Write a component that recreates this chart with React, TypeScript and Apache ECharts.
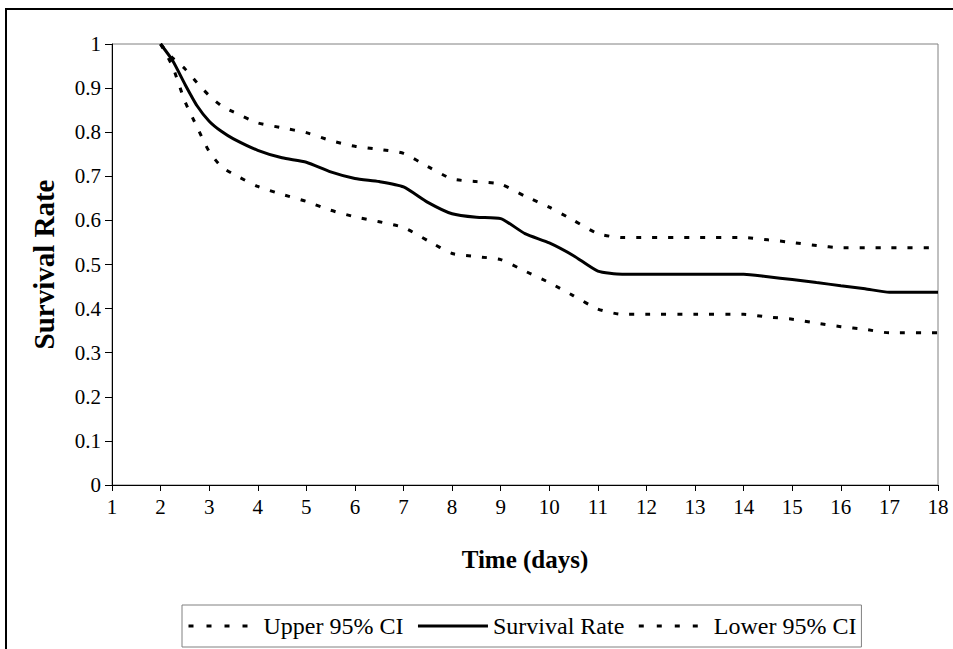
import React, { useEffect, useRef } from "react";
import * as echarts from "echarts";

const timeDays = [2, 2.25, 2.5, 2.75, 3, 3.25, 3.5, 4, 4.5, 5, 5.5, 6, 6.5, 7, 7.5, 8, 8.5, 9, 9.5, 10, 10.5, 11, 11.5, 12, 13, 14, 14.5, 15, 15.5, 16, 16.5, 17, 18];
const survivalRate = [1.0, 0.962, 0.909, 0.86, 0.825, 0.802, 0.785, 0.759, 0.742, 0.732, 0.71, 0.695, 0.688, 0.676, 0.641, 0.615, 0.607, 0.604, 0.57, 0.549, 0.52, 0.485, 0.478, 0.478, 0.478, 0.478, 0.472, 0.466, 0.459, 0.452, 0.445, 0.437, 0.437];
const upperCI = [1.0, 0.968, 0.944, 0.912, 0.883, 0.86, 0.846, 0.821, 0.81, 0.799, 0.781, 0.768, 0.761, 0.752, 0.722, 0.694, 0.688, 0.682, 0.655, 0.63, 0.6, 0.57, 0.561, 0.561, 0.561, 0.561, 0.556, 0.55, 0.543, 0.538, 0.538, 0.538, 0.538];
const lowerCI = [1.0, 0.948, 0.87, 0.812, 0.756, 0.722, 0.705, 0.677, 0.659, 0.643, 0.623, 0.608, 0.597, 0.584, 0.554, 0.525, 0.518, 0.511, 0.485, 0.459, 0.429, 0.399, 0.387, 0.387, 0.387, 0.387, 0.381, 0.376, 0.367, 0.359, 0.353, 0.345, 0.345];

const seriesNames = ["Upper 95% CI", "Survival Rate", "Lower 95% CI"];
const FONT = "Liberation Serif";

function pairs(ys: number[]) {
  return timeDays.map((t, i) => [t, ys[i]]);
}

export default function App() {
  const ref = useRef<HTMLDivElement>(null);
  useEffect(() => {
    if (!ref.current) return;
    const chart = echarts.init(ref.current, undefined, { renderer: "svg" });
    const dotted = { color: "#000", width: 3, type: [5, 11] as any };
    const legendDotted = { color: "#000", width: 3, type: [5, 13] as any };
    chart.setOption({
      animation: false,
      backgroundColor: "#fff",
      textStyle: { fontFamily: FONT, color: "#000" },
      grid: {
        left: 112,
        right: 15,
        top: 44,
        bottom: 164,
        show: true,
        borderColor: "#808080",
        borderWidth: 1,
        backgroundColor: "transparent",
      },
      xAxis: {
        type: "value",
        min: 1,
        max: 18,
        interval: 1,
        name: "Time (days)",
        nameLocation: "middle",
        nameGap: 62,
        nameTextStyle: { fontFamily: FONT, fontSize: 25, fontWeight: "bold", color: "#000" },
        axisLine: { show: true, lineStyle: { color: "#000", width: 1 } },
        axisTick: { show: true, length: 6, lineStyle: { color: "#000" } },
        axisLabel: { fontFamily: FONT, fontSize: 21, color: "#000", margin: 11 },
        splitLine: { show: false },
      },
      yAxis: {
        type: "value",
        min: 0,
        max: 1,
        interval: 0.1,
        name: "Survival Rate",
        nameLocation: "middle",
        nameGap: 54,
        nameTextStyle: { fontFamily: FONT, fontSize: 29, fontWeight: "bold", color: "#000" },
        axisLine: { show: true, lineStyle: { color: "#000", width: 1 } },
        axisTick: { show: true, length: 7, lineStyle: { color: "#000" } },
        axisLabel: { fontFamily: FONT, fontSize: 21, color: "#000", margin: 11 },
        splitLine: { show: false },
      },
      legend: {
        left: 182,
        top: 605,
        orient: "horizontal",
        padding: [9, 5],
        itemGap: 13,
        itemWidth: 70,
        itemHeight: 14,
        borderColor: "#808080",
        borderWidth: 1,
        data: [
          { name: seriesNames[0], lineStyle: legendDotted },
          { name: seriesNames[1], lineStyle: { color: "#000", width: 3, type: "solid" } },
          { name: seriesNames[2], lineStyle: legendDotted },
        ],
        itemStyle: { opacity: 0 },
        textStyle: { fontFamily: FONT, fontSize: 24, color: "#000" },
      },
      graphic: [
        { type: "line", shape: { x1: 5, y1: 9, x2: 953, y2: 9 }, style: { stroke: "#000", lineWidth: 2 } },
        { type: "line", shape: { x1: 6, y1: 8, x2: 6, y2: 649 }, style: { stroke: "#000", lineWidth: 2 } },
      ],
      series: [
        {
          name: seriesNames[0],
          type: "line",
          data: pairs(upperCI),
          showSymbol: false,
          symbol: "none",
          smooth: 0.2,
          lineStyle: dotted,
          itemStyle: { color: "#000" },
        },
        {
          name: seriesNames[1],
          type: "line",
          data: pairs(survivalRate),
          showSymbol: false,
          symbol: "none",
          smooth: 0.2,
          lineStyle: { color: "#000", width: 3, type: "solid" },
          itemStyle: { color: "#000" },
        },
        {
          name: seriesNames[2],
          type: "line",
          data: pairs(lowerCI),
          showSymbol: false,
          symbol: "none",
          smooth: 0.2,
          lineStyle: dotted,
          itemStyle: { color: "#000" },
        },
      ],
    });
    return () => chart.dispose();
  }, []);
  return (
    <div
      ref={ref}
      style={{ position: "absolute", left: 0, top: 0, width: 953, height: 649, background: "#fff" }}
    />
  );
}
